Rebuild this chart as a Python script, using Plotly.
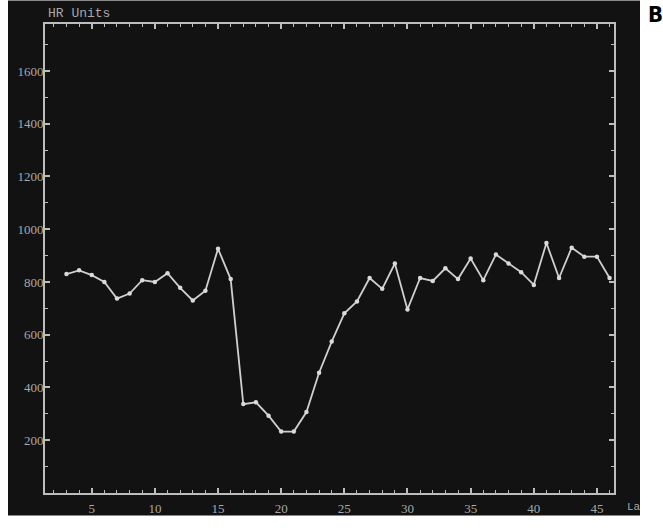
import plotly.graph_objects as go

x_values = list(range(3, 47))
hr_units = [830, 844, 826, 800, 737, 756, 807, 800, 833, 778, 730, 767, 926, 811,
            337, 344, 293, 233, 233, 307, 456, 574, 681, 726, 815, 774, 870, 696,
            815, 804, 852, 811, 889, 807, 904, 870, 837, 789, 948, 815, 930, 896,
            896, 815]
y_tick_vals = [200, 400, 600, 800, 1000, 1200, 1400, 1600]
x_tick_vals = [5, 10, 15, 20, 25, 30, 35, 40, 45]

W, H = 663, 528
L, R, T, B = 45, 614, 24, 504
pw, ph = R - L, B - T

def px(x):
    return (x - L) / pw

def py(y):
    return (B - y) / ph

dark = "#121212"
fg = "#bdbdbd"
font_family = "Liberation Serif, DejaVu Serif, serif"
mono = "Liberation Mono, DejaVu Sans Mono, monospace"

fig = go.Figure()
fig.add_trace(go.Scatter(
    x=x_values, y=hr_units, mode="lines+markers",
    line=dict(color="#cfcfcf", width=1.8),
    marker=dict(color="#dadada", size=4.5),
    hoverinfo="skip", showlegend=False,
))

fig.add_shape(type="rect", xref="paper", yref="paper",
              x0=px(8), x1=px(640), y0=py(527), y1=py(0),
              fillcolor=dark, line=dict(width=0), layer="below")

axis_common = dict(
    showgrid=False, zeroline=False, showline=True, linecolor=fg, linewidth=2,
    mirror="allticks", ticks="inside", tickcolor=fg, tickwidth=1.5, ticklen=5,
    tickfont=dict(family=font_family, size=13, color="#a8a8a8"),
)

fig.update_xaxes(range=[1.3, 46.35], tickvals=x_tick_vals, ticklabelstandoff=2,
                 minor=dict(dtick=1, tick0=0, ticks="inside", ticklen=3,
                            tickcolor=fg, tickwidth=1.2),
                 **axis_common)
fig.update_yaxes(range=[0, 1778], tickvals=y_tick_vals, ticklabelstandoff=-3,
                 minor=dict(dtick=100, tick0=0, ticks="inside", ticklen=3,
                            tickcolor=fg, tickwidth=1.2),
                 **axis_common)

fig.add_annotation(text="HR Units", xref="paper", yref="paper",
                   x=px(46), y=py(13), xanchor="left", yanchor="middle",
                   showarrow=False,
                   font=dict(family=mono, size=13, color="#a8a8a8"))
fig.add_annotation(text="La", xref="paper", yref="paper",
                   x=px(625), y=py(518), xanchor="left", yanchor="middle",
                   showarrow=False,
                   font=dict(family=mono, size=11, color="#a8a8a8"))
fig.add_annotation(text="<b>B</b>", xref="paper", yref="paper",
                   x=px(664), y=py(14), xanchor="right", yanchor="middle",
                   showarrow=False, borderpad=0,
                   font=dict(family="Liberation Sans Narrow, DejaVu Sans Condensed, sans-serif",
                             size=22, color="#000000"))

fig.update_layout(
    width=W, height=H, autosize=False,
    margin=dict(l=L, r=W - R, t=T, b=H - B, pad=0),
    paper_bgcolor="white", plot_bgcolor=dark,
)

fig.write_html("out.html", config={"displayModeBar": False},
               post_script="document.body.style.margin='0';document.body.style.overflow='hidden';")
